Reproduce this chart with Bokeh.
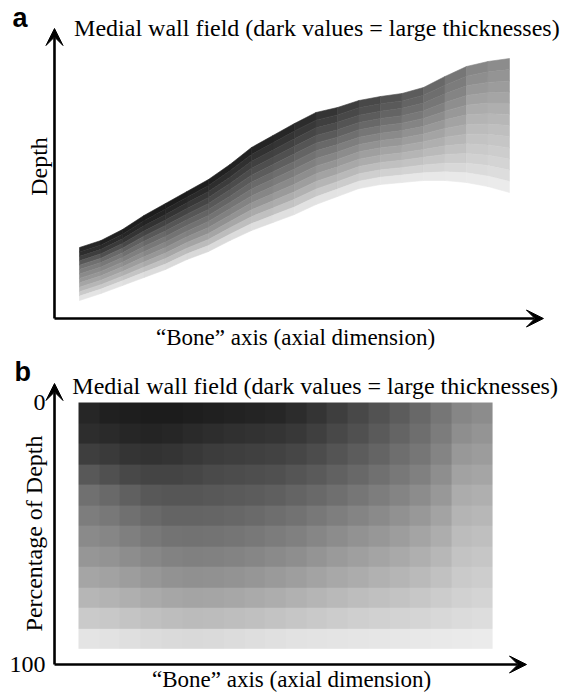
import math
import numpy as np
from bokeh.plotting import figure
from bokeh.layouts import column
from bokeh.models import Range1d, Arrow, VeeHead, Label, ColumnDataSource
from bokeh.embed import file_html
from bokeh.resources import INLINE

# ---------------- data ----------------
title_text = "Medial wall field (dark values = large thicknesses)"
x_label = "\u201cBone\u201d axis (axial dimension)"
ya_label = "Depth"
yb_label = "Percentage of Depth"
yb_ticks = [0, 100]
yb_tick_labels = ["0", "100"]

# bone-axis column edges (20 columns)
bone_edges = list(range(21))

# panel a: upper and lower wall boundary (depth units) at each column edge
wall_upper = [7.1, 7.8, 8.9, 10.3, 11.5, 12.7, 13.9, 15.4, 17.1, 18.3, 19.5,
              20.6, 21.1, 21.8, 22.2, 22.5, 23.1, 24.2, 25.2, 25.7, 26.0]
wall_lower = [1.8, 2.5, 3.3, 4.1, 4.9, 5.9, 6.7, 7.8, 8.8, 9.6, 10.4,
              11.4, 12.2, 13.0, 13.4, 13.6, 13.8, 13.8, 13.6, 13.2, 12.6]

# percentage-of-depth row edges of the field
depth_pct_edges = [0, 7.8, 15.7, 23.5, 31.3, 39.2, 47, 54.8, 62.7, 70.5, 78.3, 86.2, 94]

# grey level (0 = black, 255 = white), rows top -> bottom, columns along bone axis
field_rows = [
    [38, 32, 30, 28, 28, 30, 32, 34, 36, 38, 44, 52, 62, 72, 82, 92, 104, 118, 134, 140],
    [45, 42, 38, 36, 38, 42, 45, 48, 50, 52, 56, 63, 72, 80, 90, 100, 110, 124, 142, 148],
    [62, 58, 52, 50, 52, 56, 60, 62, 64, 66, 70, 76, 84, 92, 100, 110, 118, 132, 152, 156],
    [88, 80, 72, 68, 68, 70, 74, 76, 78, 80, 85, 90, 97, 104, 112, 120, 128, 142, 162, 165],
    [112, 105, 96, 88, 86, 86, 88, 90, 92, 95, 100, 105, 111, 118, 125, 132, 140, 152, 172, 175],
    [125, 120, 112, 105, 100, 100, 101, 103, 106, 110, 114, 120, 126, 132, 138, 145, 152, 163, 180, 183],
    [138, 134, 127, 120, 115, 114, 115, 117, 120, 124, 128, 134, 140, 146, 151, 157, 164, 173, 188, 191],
    [150, 147, 141, 135, 130, 128, 129, 131, 134, 138, 142, 148, 154, 159, 164, 169, 175, 183, 195, 198],
    [165, 162, 157, 151, 146, 144, 145, 147, 150, 154, 158, 163, 168, 172, 177, 181, 186, 193, 202, 205],
    [182, 179, 175, 170, 166, 164, 165, 167, 170, 173, 177, 181, 185, 189, 192, 195, 199, 204, 209, 212],
    [202, 200, 196, 192, 189, 187, 188, 190, 192, 195, 198, 201, 204, 207, 209, 211, 213, 216, 219, 221],
    [228, 226, 223, 220, 218, 217, 218, 220, 222, 224, 226, 227, 228, 229, 230, 231, 232, 233, 234, 235],
]

SERIF = "Liberation Serif"
SANS = "Liberation Sans"


def grey(v):
    return "#%02x%02x%02x" % (v, v, v)


def build_panel_a_source():
    pa = dict(xs=[], ys=[], color=[])
    e_last = depth_pct_edges[-1]

    def ya(k, e):
        u, l = wall_upper[k], wall_lower[k]
        return u - (u - l) * e / e_last

    for i, row in enumerate(field_rows):
        e0, e1 = depth_pct_edges[i], depth_pct_edges[i + 1]
        for j, v in enumerate(row):
            x0, x1 = bone_edges[j], bone_edges[j + 1]
            pa["xs"].append([x0, x1, x1, x0])
            pa["ys"].append([ya(j, e0), ya(j + 1, e0), ya(j + 1, e1), ya(j, e1)])
            pa["color"].append(grey(v))
    return ColumnDataSource(pa)


def build_panel_b_image():
    g = np.array(field_rows, dtype=np.uint32)
    rgba = (255 << 24) | (g << 16) | (g << 8) | g
    return rgba.astype(np.uint32)


src_a = build_panel_a_source()
img_b = build_panel_b_image()


def make_fig(h, xr, yr):
    p = figure(width=561, height=h, output_backend="svg", toolbar_location=None,
               x_range=xr, y_range=yr, x_axis_location=None, y_axis_location=None,
               min_border=0, min_border_left=0, min_border_right=0,
               min_border_top=0, min_border_bottom=0)
    p.outline_line_color = None
    p.grid.visible = False
    p.background_fill_color = "white"
    p.border_fill_color = "white"
    return p


def arrow(p, x0, y0, x1, y1):
    p.add_layout(Arrow(end=VeeHead(size=17, fill_color="black", line_color="black", line_width=1),
                       x_start=x0, y_start=y0, x_end=x1, y_end=y1,
                       line_color="black", line_width=2.6))


def text(p, x, y, t, size, font=SERIF, align="left", angle=0.0, style="normal"):
    p.add_layout(Label(x=x, y=y, text=t, text_font=font, text_font_size=size,
                       text_font_style=style, text_align=align, text_baseline="middle",
                       angle=angle, text_color="black"))


# ---------------- panel a ----------------
pa = make_fig(351, Range1d(-3.674, 22.42), Range1d(-3.3, 31.8))
pa.patches(xs="xs", ys="ys", source=src_a, fill_color="color", line_color="color", line_width=0.6)
xa0 = -1.163
arrow(pa, xa0, 0, 21.58, 0)
arrow(pa, xa0, 0, xa0, 29.0)
text(pa, -0.251, 29.1, title_text, "24px")
text(pa, -3.12, 30.03, "a", "27px", font=SANS, style="bold")
text(pa, -1.884, 15.2, ya_label, "24px", align="center", angle=math.pi / 2)
text(pa, 10.05, -1.9, x_label, "23px", align="center")

# ---------------- panel b ----------------
pb = make_fig(343, Range1d(-3.768, 23.33), Range1d(111.45, -19.47))
pb.image_rgba(image=[img_b], x=bone_edges[0], y=depth_pct_edges[0],
              dw=bone_edges[-1] - bone_edges[0], dh=depth_pct_edges[-1] - depth_pct_edges[0])
xb0 = -1.159
arrow(pb, xb0, 100, 21.64, 100)
arrow(pb, xb0, 100, xb0, -7.25)
text(pb, -0.30, -6.49, title_text, "24px")
text(pb, -3.09, -11.6, "b", "27px", font=SANS, style="bold")
for tv, tl in zip(yb_ticks, yb_tick_labels):
    text(pb, -1.594, tv, tl, "24px", align="right")
text(pb, -2.174, 50, yb_label, "24px", align="center", angle=math.pi / 2)
text(pb, 10.29, 105.7, x_label, "23px", align="center")

layout = column(pa, pb, spacing=0)
open("out.html", "w").write(file_html(layout, INLINE))
